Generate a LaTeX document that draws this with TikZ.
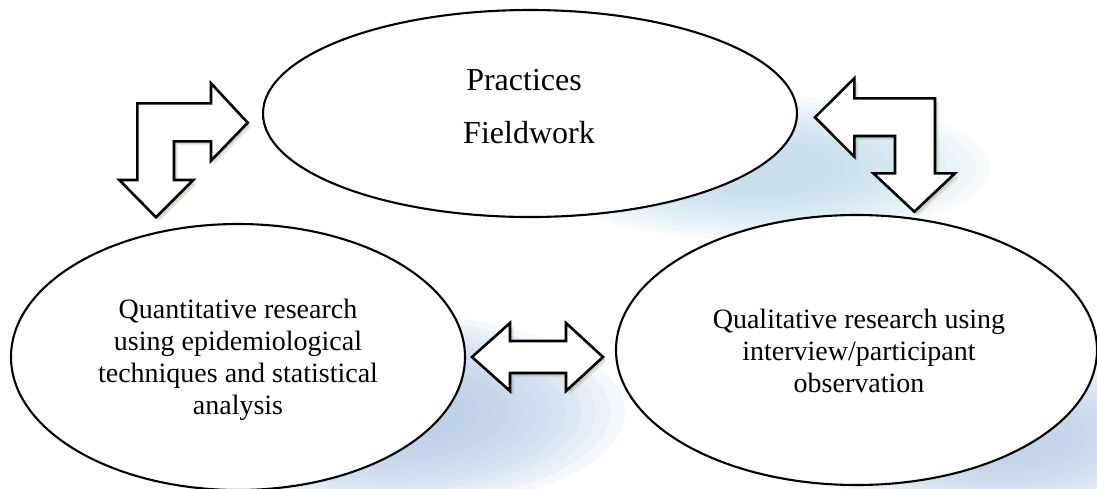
\documentclass[tikz,border=0pt]{standalone}
\usepackage{fontspec}
\setmainfont{Liberation Serif}
\usetikzlibrary{shapes.geometric}
\definecolor{shblue}{RGB}{178,212,228}
\definecolor{shblueB}{RGB}{176,198,228}
\definecolor{arrsh}{RGB}{95,110,60}
\newcommand\glowell[6]{%
  \foreach \i in {0,...,11}{%
    \pgfmathsetmacro\grx{#3*(1-\i/16)}%
    \pgfmathsetmacro\gry{#4*(1-\i/16)}%
    \fill[#5, fill opacity=#6] (#1,#2) ellipse [x radius=\grx pt, y radius=\gry pt];}}
\begin{document}
\begin{tikzpicture}[x=1pt,y=-1pt,
  bub/.style={ellipse, draw=black, line width=2.1pt, fill=white, inner sep=0pt},
  blk/.style={draw=black, line width=2.6pt, fill=white, line join=miter, miter limit=10},
  arrshadow/.style={fill=arrsh, fill opacity=0.10},
  txt/.style={font=\fontsize{28}{32}\selectfont, align=center},
  ttxt/.style={font=\fontsize{32}{36}\selectfont, anchor=base}]
\useasboundingbox (0,0) rectangle (1097,488);
% soft blue shadows of the ellipses
\glowell{760}{168}{230}{72}{shblue}{0.10}
\glowell{390}{412}{235}{98}{shblueB}{0.13}
\glowell{1000}{435}{200}{85}{shblueB}{0.11}
% arrow outlines
\def\arrowTL{(247.7,122.7) -- (211,83.3) -- (211,103.3) -- (137.3,103.3) -- (137.3,180) -- (119.3,180) -- (156,217.3) -- (193.3,180) -- (174,180) -- (174,141.3) -- (211,141.3) -- (211,160.7) -- cycle}
\def\arrowTR{(815,117.3) -- (854.3,78.3) -- (854.3,98.3) -- (935,98.3) -- (935,173.3) -- (955,173.3) -- (914.3,211.7) -- (873.3,173.3) -- (895,173.3) -- (895,136) -- (854.3,136) -- (854.3,156.7) -- cycle}
\def\arrowMid{(472,357) -- (510,323) -- (510,341) -- (566,341) -- (566,323) -- (603,357) -- (566,391) -- (566,373) -- (510,373) -- (510,391) -- cycle}
% ellipses
\node[bub, minimum width=534pt, minimum height=207pt] (top) at (530,113.5) {};
\node[bub, minimum width=454pt, minimum height=266pt] (qt) at (238,357) {};
\node[bub, minimum width=481pt, minimum height=270pt] (ql) at (856.5,350) {};
% arrow shadows
\foreach \k in {1,2,3,4}{
  \fill[arrshadow, shift={(\k,\k)}] \arrowTL;
  \fill[arrshadow, shift={(\k,\k)}] \arrowTR;
  \fill[arrshadow, shift={(\k,\k)}] \arrowMid;
}
% block arrows
\path[blk] \arrowTL;
\path[blk] \arrowTR;
\path[blk] \arrowMid;
% texts
\node[ttxt] (prac) at (524,90) {Practices};
\node[ttxt] (field) at (529,143) {Fieldwork};
\node[txt] (qttext) at (238,360) {Quantitative research\\using epidemiological\\techniques and statistical\\analysis};
\node[txt] (qltext) at (859,351) {Qualitative research using\\interview/participant\\observation};
\end{tikzpicture}
\end{document}
